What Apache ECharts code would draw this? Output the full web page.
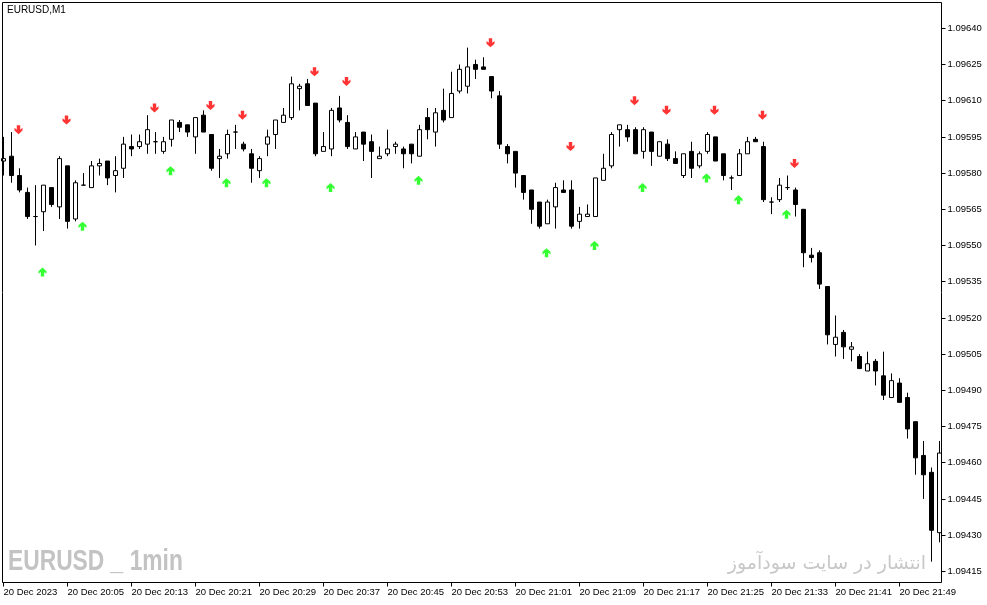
<!DOCTYPE html>
<html><head><meta charset="utf-8">
<script src="https://cdn.jsdelivr.net/npm/echarts@6/dist/echarts.min.js"></script>
<style>html,body{margin:0;padding:0;background:#fff}#c{width:987px;height:605px}</style>
</head><body><div id="c"></div>
<script>
// ---- data (EURUSD M1, 20 Dec 2023, first bar 19:57) ----
const firstBarMinute = 19 * 60 + 57;
const open = [1.09585,1.09587,1.09579,1.09572,1.09562,1.09564,1.09574,1.09566,1.09583,1.09561,
1.09575,1.09574,1.09583,1.09585,1.09579,1.09582,1.09591,1.09591,1.09592,1.09593,
1.09589,1.09594,1.09601,1.09600,1.09595,1.09604,1.09596,1.09586,1.09588,1.09597,
1.09592,1.09588,1.09581,1.09592,1.09596,1.09601,1.09603,1.09615,1.09617,1.09609,
1.09589,1.09590,1.09607,1.09601,1.09590,1.09597,1.09593,1.09586,1.09588,1.09591,
1.09590,1.09592,1.09587,1.09603,1.09597,1.09606,1.09603,1.09614,1.09616,1.09625,
1.09624,1.09620,1.09612,1.09591,1.09589,1.09579,1.09573,1.09568,1.09559,1.09566,
1.09573,1.09573,1.09560,1.09562,1.09562,1.09577,1.09583,1.09598,1.09598,1.09598,
1.09589,1.09597,1.09587,1.09592,1.09586,1.09579,1.09589,1.09583,1.09589,1.09595,
1.09588,1.09578,1.09579,1.09588,1.09594,1.09591,1.09568,1.09569,1.09574,1.09573,
1.09565,1.09546,1.09547,1.09533,1.09509,1.09514,1.09507,1.09504,1.09498,1.09502,
1.09496,1.09487,1.09493,1.09487,1.09477,1.09463,1.09456,1.09431];
const close = [1.09586,1.09579,1.09573,1.09562,1.09562,1.09575,1.09567,1.09586,1.09560,1.09576,
1.09575,1.09583,1.09584,1.09578,1.09581,1.09592,1.09590,1.09593,1.09598,1.09593,
1.09593,1.09602,1.09599,1.09597,1.09603,1.09597,1.09582,1.09587,1.09596,1.09597,
1.09590,1.09582,1.09586,1.09595,1.09602,1.09604,1.09617,1.09616,1.09608,1.09588,
1.09591,1.09606,1.09602,1.09591,1.09595,1.09592,1.09589,1.09587,1.09590,1.09592,
1.09588,1.09588,1.09598,1.09598,1.09605,1.09602,1.09613,1.09623,1.09624,1.09623,
1.09623,1.09614,1.09592,1.09588,1.09580,1.09572,1.09565,1.09558,1.09568,1.09574,
1.09572,1.09558,1.09563,1.09563,1.09578,1.09582,1.09596,1.09600,1.09595,1.09588,
1.09598,1.09589,1.09593,1.09586,1.09584,1.09588,1.09582,1.09588,1.09596,1.09585,
1.09579,1.09578,1.09588,1.09593,1.09593,1.09569,1.09568,1.09575,1.09574,1.09567,
1.09547,1.09545,1.09534,1.09513,1.09512,1.09508,1.09508,1.09499,1.09501,1.09498,
1.09488,1.09494,1.09485,1.09474,1.09462,1.09455,1.09432,1.09464];
const high = [1.09595,1.09597,1.09582,1.09574,1.09575,1.09575,1.09574,1.09587,1.09583,1.09577,
1.09580,1.09585,1.09586,1.09585,1.09587,1.09595,1.09596,1.09596,1.09604,1.09597,
1.09595,1.09602,1.09602,1.09600,1.09603,1.09606,1.09596,1.09590,1.09598,1.09600,
1.09593,1.09590,1.09587,1.09598,1.09602,1.09607,1.09620,1.09617,1.09619,1.09609,
1.09597,1.09607,1.09612,1.09604,1.09597,1.09597,1.09596,1.09591,1.09598,1.09593,
1.09591,1.09592,1.09600,1.09607,1.09607,1.09615,1.09622,1.09625,1.09632,1.09627,
1.09628,1.09620,1.09614,1.09592,1.09589,1.09579,1.09573,1.09568,1.09569,1.09576,
1.09577,1.09577,1.09566,1.09567,1.09578,1.09588,1.09597,1.09600,1.09600,1.09599,
1.09599,1.09597,1.09593,1.09594,1.09589,1.09588,1.09593,1.09589,1.09597,1.09595,
1.09588,1.09579,1.09590,1.09595,1.09595,1.09593,1.09570,1.09578,1.09579,1.09574,
1.09565,1.09549,1.09548,1.09533,1.09521,1.09515,1.09510,1.09505,1.09506,1.09503,
1.09506,1.09497,1.09495,1.09489,1.09477,1.09469,1.09458,1.09469];
const low = [1.09579,1.09576,1.09572,1.09561,1.09550,1.09556,1.09566,1.09561,1.09557,1.09560,
1.09575,1.09574,1.09579,1.09575,1.09572,1.09578,1.09587,1.09590,1.09588,1.09588,
1.09588,1.09591,1.09597,1.09595,1.09588,1.09597,1.09581,1.09578,1.09586,1.09590,
1.09589,1.09576,1.09578,1.09587,1.09590,1.09601,1.09602,1.09606,1.09608,1.09587,
1.09589,1.09587,1.09601,1.09590,1.09590,1.09585,1.09578,1.09586,1.09587,1.09588,
1.09582,1.09584,1.09587,1.09594,1.09591,1.09601,1.09603,1.09613,1.09613,1.09619,
1.09623,1.09611,1.09590,1.09584,1.09574,1.09569,1.09559,1.09557,1.09559,1.09557,
1.09572,1.09557,1.09557,1.09562,1.09562,1.09577,1.09582,1.09591,1.09593,1.09588,
1.09586,1.09583,1.09587,1.09585,1.09584,1.09578,1.09578,1.09582,1.09588,1.09585,
1.09577,1.09573,1.09579,1.09588,1.09593,1.09568,1.09563,1.09568,1.09573,1.09562,
1.09541,1.09543,1.09532,1.09509,1.09504,1.09503,1.09502,1.09499,1.09498,1.09492,
1.09486,1.09487,1.09485,1.09470,1.09455,1.09445,1.09419,1.09427];

// signal arrows: bar index and price level
const sellArrowBar   = [2, 8, 19, 26, 30, 39, 43, 61, 71, 79, 83, 89, 95, 99];
const sellArrowPrice = [1.09598,1.09602,1.09607,1.09608,1.09604,1.09622,1.09618,1.09634,1.09591,1.09610,1.09606,1.09606,1.09604,1.09584];
const buyArrowBar    = [5, 10, 21, 28, 33, 41, 52, 68, 74, 80, 88, 92, 98];
const buyArrowPrice  = [1.09539,1.09558,1.09581,1.09576,1.09576,1.09574,1.09577,1.09547,1.09550,1.09574,1.09578,1.09569,1.09563];

const timeTickLabels = ['20 Dec 2023','20 Dec 20:05','20 Dec 20:13','20 Dec 20:21','20 Dec 20:29',
'20 Dec 20:37','20 Dec 20:45','20 Dec 20:53','20 Dec 21:01','20 Dec 21:09','20 Dec 21:17',
'20 Dec 21:25','20 Dec 21:33','20 Dec 21:41','20 Dec 21:49'];
const priceTicks = [1.09415,1.09430,1.09445,1.09460,1.09475,1.09490,1.09505,1.09520,1.09535,
1.09550,1.09565,1.09580,1.09595,1.09610,1.09625,1.09640];

// ---- build ----
const categories = open.map((_, i) => {
  const m = firstBarMinute + i;
  return String(Math.floor(m / 60)).padStart(2, '0') + ':' + String(m % 60).padStart(2, '0');
});
const ohlc = open.map((o, i) => [o, close[i], low[i], high[i]]);
const sellPts = sellArrowBar.map((b, i) => [b, sellArrowPrice[i]]);
const buyPts = buyArrowBar.map((b, i) => [b, buyArrowPrice[i]]);

const downArrow = 'path://M3,0H6V5L8,3V6L4.5,10L1,6V3L3,5Z';
const upArrow = 'path://M3,10H6V5L8,7V4L4.5,0L1,4V7L3,5Z';
const FONT = "'Liberation Sans', Arial, sans-serif";

const chart = echarts.init(document.getElementById('c'), null, {renderer: 'canvas'});
chart.setOption({
  animation: false,
  backgroundColor: '#ffffff',
  grid: {left: 3.5, top: 2.5, width: 936, height: 580, containLabel: false},
  xAxis: {
    type: 'category', data: categories, boundaryGap: false,
    axisLine: {show: false},
    axisTick: {show: true, interval: 7, length: 4, lineStyle: {color: '#000'}},
    axisLabel: {
      interval: 7, margin: 5, align: 'left', color: '#000',
      fontFamily: FONT, fontSize: 9.5,
      formatter: (v, idx) => (idx % 8 === 0 ? timeTickLabels[idx / 8] : '')
    },
    splitLine: {show: false}
  },
  yAxis: {
    type: 'value', position: 'right', offset: 2,
    min: 1.0941036, max: 1.0965069, scale: true,
    axisLine: {show: false},
    axisTick: {show: true, length: 4, customValues: priceTicks, lineStyle: {color: '#000'}},
    axisLabel: {
      margin: 6, color: '#000', fontFamily: FONT, fontSize: 9.5,
      customValues: priceTicks, formatter: v => v.toFixed(5)
    },
    splitLine: {show: false}
  },
  series: [
    {
      type: 'candlestick', data: ohlc, barWidth: 4,
      itemStyle: {color: '#ffffff', color0: '#000000', borderColor: '#000000', borderColor0: '#000000', borderWidth: 1}
    },
    {
      type: 'scatter', data: sellPts, symbol: downArrow, symbolSize: [8, 9], symbolOffset: [-1, 0],
      itemStyle: {color: '#ff0000'}, z: 5
    },
    {
      type: 'scatter', data: buyPts, symbol: upArrow, symbolSize: [8, 9], symbolOffset: [-1, 0],
      itemStyle: {color: '#00ff00'}, z: 5
    }
  ],
  graphic: [
    {type: 'rect', shape: {x: 2.5, y: 2.5, width: 939, height: 580}, style: {fill: 'none', stroke: '#000', lineWidth: 1}, z: 100, silent: true},
    {type: 'text', x: 7, y: 5, style: {text: 'EURUSD,M1', font: "10px 'Liberation Sans', Arial, sans-serif", fill: '#000', textVerticalAlign: 'top'}, z: 100},
    {type: 'text', x: 8, y: 547, scaleX: 0.76, style: {text: 'EURUSD _ 1min', font: "bold 30px 'Liberation Sans', Arial, sans-serif", fill: '#c3c3c3', textVerticalAlign: 'top'}, z: 90},
    {type: 'text', x: 926, y: 564, style: {text: 'انتشار در سایت سودآموز', font: "19px 'DejaVu Sans', sans-serif", fill: '#c8c8c8', textAlign: 'right', textVerticalAlign: 'middle'}, z: 90}
  ]
});
</script>
</body></html>
